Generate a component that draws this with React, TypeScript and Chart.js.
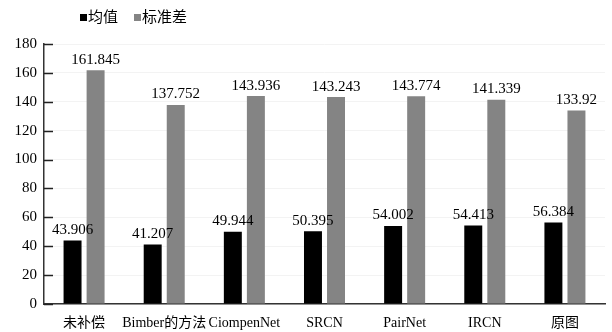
import React, { useEffect, useRef } from "react";
import { Chart, registerables } from "chart.js";

Chart.register(...registerables);

const categories = ["未补偿", "Bimber的方法", "CiompenNet", "SRCN", "PairNet", "IRCN", "原图"];
const meanValues = [43.906, 41.207, 49.944, 50.395, 54.002, 54.413, 56.384];
const stdValues = [161.845, 137.752, 143.936, 143.243, 143.774, 141.339, 133.92];
const meanLabel = "均值";
const stdLabel = "标准差";
const yTicks = [0, 20, 40, 60, 80, 100, 120, 140, 160, 180];

const SERIF = '"Liberation Serif", "Times New Roman", "Noto Sans CJK SC", serif';

// Writes each bar's value above it
const valueLabels = {
  id: "valueLabels",
  afterDatasetsDraw(chart: any) {
    const ctx = chart.ctx;
    ctx.save();
    ctx.font = `15px ${SERIF}`;
    ctx.fillStyle = "#000";
    ctx.textAlign = "center";
    ctx.textBaseline = "bottom";
    chart.data.datasets.forEach((ds: any, di: number) => {
      const meta = chart.getDatasetMeta(di);
      meta.data.forEach((bar: any, i: number) => {
        ctx.fillText(String(ds.data[i]), bar.x, bar.y - 3);
      });
    });
    ctx.restore();
  },
};

// Inward tick marks on the value axis
const innerTicks = {
  id: "innerTicks",
  afterDraw(chart: any) {
    const ctx = chart.ctx;
    const y = chart.scales.y;
    const left = chart.chartArea.left;
    ctx.save();
    ctx.strokeStyle = "#222";
    ctx.lineWidth = 1.5;
    y.ticks.forEach((t: any) => {
      const py = Math.round(y.getPixelForValue(t.value)) + 0.5;
      ctx.beginPath();
      ctx.moveTo(left, py);
      ctx.lineTo(left + 9, py);
      ctx.stroke();
    });
    ctx.restore();
  },
};

// Legend row drawn from the datasets' labels and colours
const topLegend = {
  id: "topLegend",
  afterDraw(chart: any) {
    const ctx = chart.ctx;
    ctx.save();
    ctx.font = `15px ${SERIF}`;
    ctx.textBaseline = "middle";
    let x = 80;
    const cy = 18;
    chart.data.datasets.forEach((ds: any) => {
      ctx.fillStyle = ds.backgroundColor;
      ctx.fillRect(x, cy - 4, 7, 7);
      x += 8;
      ctx.fillStyle = "#000";
      ctx.textAlign = "left";
      ctx.fillText(ds.label, x, cy);
      x += ctx.measureText(ds.label).width + 16;
    });
    ctx.restore();
  },
};

export default function App() {
  const ref = useRef<HTMLCanvasElement>(null);

  useEffect(() => {
    const chart = new Chart(ref.current!, {
      type: "bar",
      data: {
        labels: categories,
        datasets: [
          { label: meanLabel, data: meanValues, backgroundColor: "#000000", categoryPercentage: 0.575, barPercentage: 0.78 },
          { label: stdLabel, data: stdValues, backgroundColor: "#848484", categoryPercentage: 0.575, barPercentage: 0.78 },
        ],
      },
      options: {
        animation: false,
        responsive: false,
        layout: { padding: { top: 44, right: 7, left: 0, bottom: 0 } },
        plugins: { legend: { display: false }, tooltip: { enabled: false } },
        scales: {
          x: {
            grid: { display: false, drawTicks: false },
            border: { display: true, color: "#333", width: 1.5 },
            ticks: { color: "#000", font: { family: SERIF, size: 14 }, padding: 11, maxRotation: 0, autoSkip: false },
            afterFit: (s: any) => { s.height = 28; },
          },
          y: {
            min: 0,
            max: 180,
            afterBuildTicks: (s: any) => { s.ticks = yTicks.map((v) => ({ value: v })); },
            grid: { color: "#f3f3f3", drawTicks: false },
            border: { display: true, color: "#333", width: 1.5 },
            ticks: { color: "#000", font: { family: SERIF, size: 15 }, padding: 7 },
            afterFit: (s: any) => { s.width = 44; },
          },
        },
      },
      plugins: [valueLabels, innerTicks, topLegend],
    });
    return () => chart.destroy();
  }, []);

  return (
    <div style={{ position: "fixed", left: 0, top: 0, width: 612, height: 332, background: "#fff" }}>
      <canvas ref={ref} width={612} height={332} />
    </div>
  );
}
